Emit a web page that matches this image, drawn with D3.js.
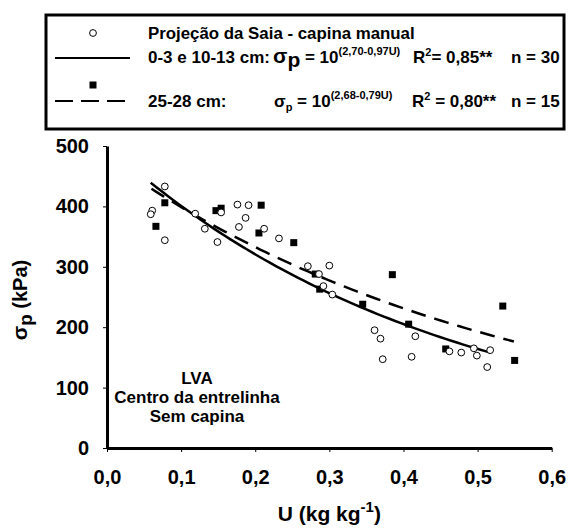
<!DOCTYPE html>
<html>
<head>
<meta charset="utf-8">
<script src="https://cdn.jsdelivr.net/npm/d3@7"></script>
<style>
  html, body { margin: 0; padding: 0; background: #fff; }
  svg { display: block; font-family: Arial, "Liberation Sans", sans-serif; font-weight: bold; }
</style>
</head>
<body>
<svg id="chart" width="568" height="529"></svg>
<script>
// Projeção da Saia - capina manual (0-3 e 10-13 cm), open circles
const shallowU = [0.078, 0.061, 0.059, 0.078, 0.119, 0.132, 0.149, 0.154, 0.176, 0.191,
                  0.187, 0.178, 0.212, 0.232, 0.271, 0.300, 0.286, 0.292, 0.304, 0.361,
                  0.369, 0.372, 0.416, 0.411, 0.462, 0.478, 0.495, 0.499, 0.517, 0.513];
const shallowSigma = [433, 393, 387, 344, 388, 363, 341, 390, 403, 402,
                      381, 366, 363, 347, 301, 302, 288, 268, 254, 195,
                      181, 147, 185, 151, 160, 158, 165, 153, 162, 134];

// 25-28 cm, filled squares
const deepU = [0.078, 0.066, 0.147, 0.154, 0.208, 0.205, 0.252, 0.281, 0.287, 0.345,
               0.385, 0.407, 0.457, 0.534, 0.550];
const deepSigma = [406, 367, 393, 397, 402, 356, 340, 288, 263, 238,
                   287, 205, 164, 235, 145];

// fitted models: sigma_p = 10^(a - b*U)
const shallowFit = { a: 2.70, b: 0.97, from: 0.059, to: 0.518 };
const deepFit = { a: 2.68, b: 0.79, from: 0.060, to: 0.549 };

const xTicks = [0, 0.1, 0.2, 0.3, 0.4, 0.5, 0.6];
const xTickLabels = ["0,0", "0,1", "0,2", "0,3", "0,4", "0,5", "0,6"];
const yTicks = [0, 100, 200, 300, 400, 500];

const svg = d3.select("#chart");

const x = d3.scaleLinear().domain([0, 0.6]).range([107, 551.7]);
const y = d3.scaleLinear().domain([0, 500]).range([448, 146]);

// axes
const xAxis = d3.axisBottom(x).tickValues(xTicks)
  .tickFormat((d, i) => xTickLabels[i]).tickSize(4).tickSizeOuter(0).tickPadding(18);
const yAxis = d3.axisLeft(y).tickValues(yTicks)
  .tickFormat(d3.format("d")).tickSize(4).tickSizeOuter(0).tickPadding(14);

const gx = svg.append("g").attr("transform", `translate(0,${y(0)})`).call(xAxis);
const gy = svg.append("g").attr("transform", `translate(${x(0)},0)`).call(yAxis);

[gx, gy].forEach(g => {
  g.select(".domain").attr("stroke", "#000").attr("stroke-width", 3);
  g.selectAll(".tick line").attr("stroke", "#000").attr("stroke-width", 1);
  g.selectAll(".tick text").attr("fill", "#000")
    .style("font-size", "20px").style("font-weight", "bold")
    .style("font-family", "Arial, 'Liberation Sans', sans-serif");
});

// fitted curves
function curvePoints(fit) {
  const n = 60;
  return d3.range(n + 1).map(i => {
    const u = fit.from + (fit.to - fit.from) * i / n;
    return [u, Math.pow(10, fit.a - fit.b * u)];
  });
}
const line = d3.line().x(d => x(d[0])).y(d => y(d[1]));

svg.append("path").datum(curvePoints(deepFit))
  .attr("d", line).attr("fill", "none").attr("stroke", "#000")
  .attr("stroke-width", 2.5).attr("stroke-dasharray", "15,9");
svg.append("path").datum(curvePoints(shallowFit))
  .attr("d", line).attr("fill", "none").attr("stroke", "#000")
  .attr("stroke-width", 2.5);

// points
const sq = 7;
svg.append("g").selectAll("rect").data(deepU).join("rect")
  .attr("x", (d, i) => x(d) - sq / 2)
  .attr("y", (d, i) => y(deepSigma[i]) - sq / 2)
  .attr("width", sq).attr("height", sq).attr("fill", "#000");

svg.append("g").selectAll("circle").data(shallowU).join("circle")
  .attr("cx", d => x(d))
  .attr("cy", (d, i) => y(shallowSigma[i]))
  .attr("r", 3.4).attr("fill", "#fff").attr("stroke", "#000").attr("stroke-width", 1);

// site annotation
const note = svg.append("text").attr("text-anchor", "middle").style("font-size", "17px");
["LVA", "Centro da entrelinha", "Sem capina"].forEach((t, i) => {
  note.append("tspan").attr("x", 197).attr("y", 384 + i * 19).text(t);
});

// axis titles
svg.append("text").attr("x", x(0.3)).attr("y", 521).attr("text-anchor", "middle")
  .style("font-size", "21px")
  .call(t => {
    t.append("tspan").text("U (kg kg");
    t.append("tspan").attr("dy", -9).style("font-size", "15px").text("-1");
    t.append("tspan").attr("dy", 9).text(")");
  });

svg.append("text").attr("transform", `translate(27,${y(245)}) rotate(-90)`)
  .attr("text-anchor", "middle").style("font-size", "20px")
  .call(t => {
    t.append("tspan").style("font-size", "21px").text("σ");
    t.append("tspan").attr("dy", 5).style("font-size", "19px").text("p");
    t.append("tspan").attr("dy", -5).text(" (kPa)");
  });

// legend
const lg = svg.append("g");
lg.append("rect").attr("x", 46).attr("y", 15).attr("width", 518).attr("height", 114)
  .attr("fill", "#fff").attr("stroke", "#000").attr("stroke-width", 3);

lg.append("circle").attr("cx", 93).attr("cy", 33).attr("r", 3.4)
  .attr("fill", "#fff").attr("stroke", "#000").attr("stroke-width", 1);
lg.append("line").attr("x1", 55).attr("x2", 130).attr("y1", 58).attr("y2", 58)
  .attr("stroke", "#000").attr("stroke-width", 2);
lg.append("rect").attr("x", 93 - sq / 2).attr("y", 85 - sq / 2).attr("width", sq).attr("height", sq)
  .attr("fill", "#000");
lg.append("line").attr("x1", 55).attr("x2", 130).attr("y1", 101).attr("y2", 101)
  .attr("stroke", "#000").attr("stroke-width", 2).attr("stroke-dasharray", "18,8");

const fs = "17px";
// title row, stretched horizontally to span 267px
const title = lg.append("text").attr("x", 0).attr("y", 0).style("font-size", fs)
  .text("Projeção da Saia - capina manual");
const natural = title.node().getComputedTextLength() || 267;
title.attr("transform", `translate(148,39) scale(${267 / natural},1)`);

// row: 0-3 e 10-13 cm
lg.append("text").attr("x", 148).attr("y", 63).style("font-size", fs).text("0-3 e 10-13 cm:");
lg.append("text").attr("x", 273).attr("y", 63).style("font-size", fs)
  .call(t => {
    t.append("tspan").style("font-size", "21px").text("σ");
    t.append("tspan").attr("dy", 4).style("font-size", "21px").text("p");
    t.append("tspan").attr("dy", -4).text(" = 10");
    t.append("tspan").attr("dy", -8).style("font-size", "11px").text("(2,70-0,97U)");
  });
lg.append("text").attr("x", 413).attr("y", 63).style("font-size", fs)
  .call(t => {
    t.append("tspan").text("R");
    t.append("tspan").attr("dy", -7).style("font-size", "11px").text("2");
    t.append("tspan").attr("dy", 7).text("= 0,85**");
  });
lg.append("text").attr("x", 511).attr("y", 63).style("font-size", fs).text("n = 30");

// row: 25-28 cm
lg.append("text").attr("x", 148).attr("y", 107).style("font-size", fs).text("25-28 cm:");
lg.append("text").attr("x", 274).attr("y", 107).style("font-size", fs)
  .call(t => {
    t.append("tspan").text("σ");
    t.append("tspan").attr("dy", 4).style("font-size", "11px").text("p");
    t.append("tspan").attr("dy", -4).text(" = 10");
    t.append("tspan").attr("dy", -8).style("font-size", "11px").text("(2,68-0,79U)");
  });
lg.append("text").attr("x", 412).attr("y", 107).style("font-size", fs)
  .call(t => {
    t.append("tspan").text("R");
    t.append("tspan").attr("dy", -7).style("font-size", "11px").text("2");
    t.append("tspan").attr("dy", 7).text(" = 0,80**");
  });
lg.append("text").attr("x", 511).attr("y", 107).style("font-size", fs).text("n = 15");
</script>
</body>
</html>
